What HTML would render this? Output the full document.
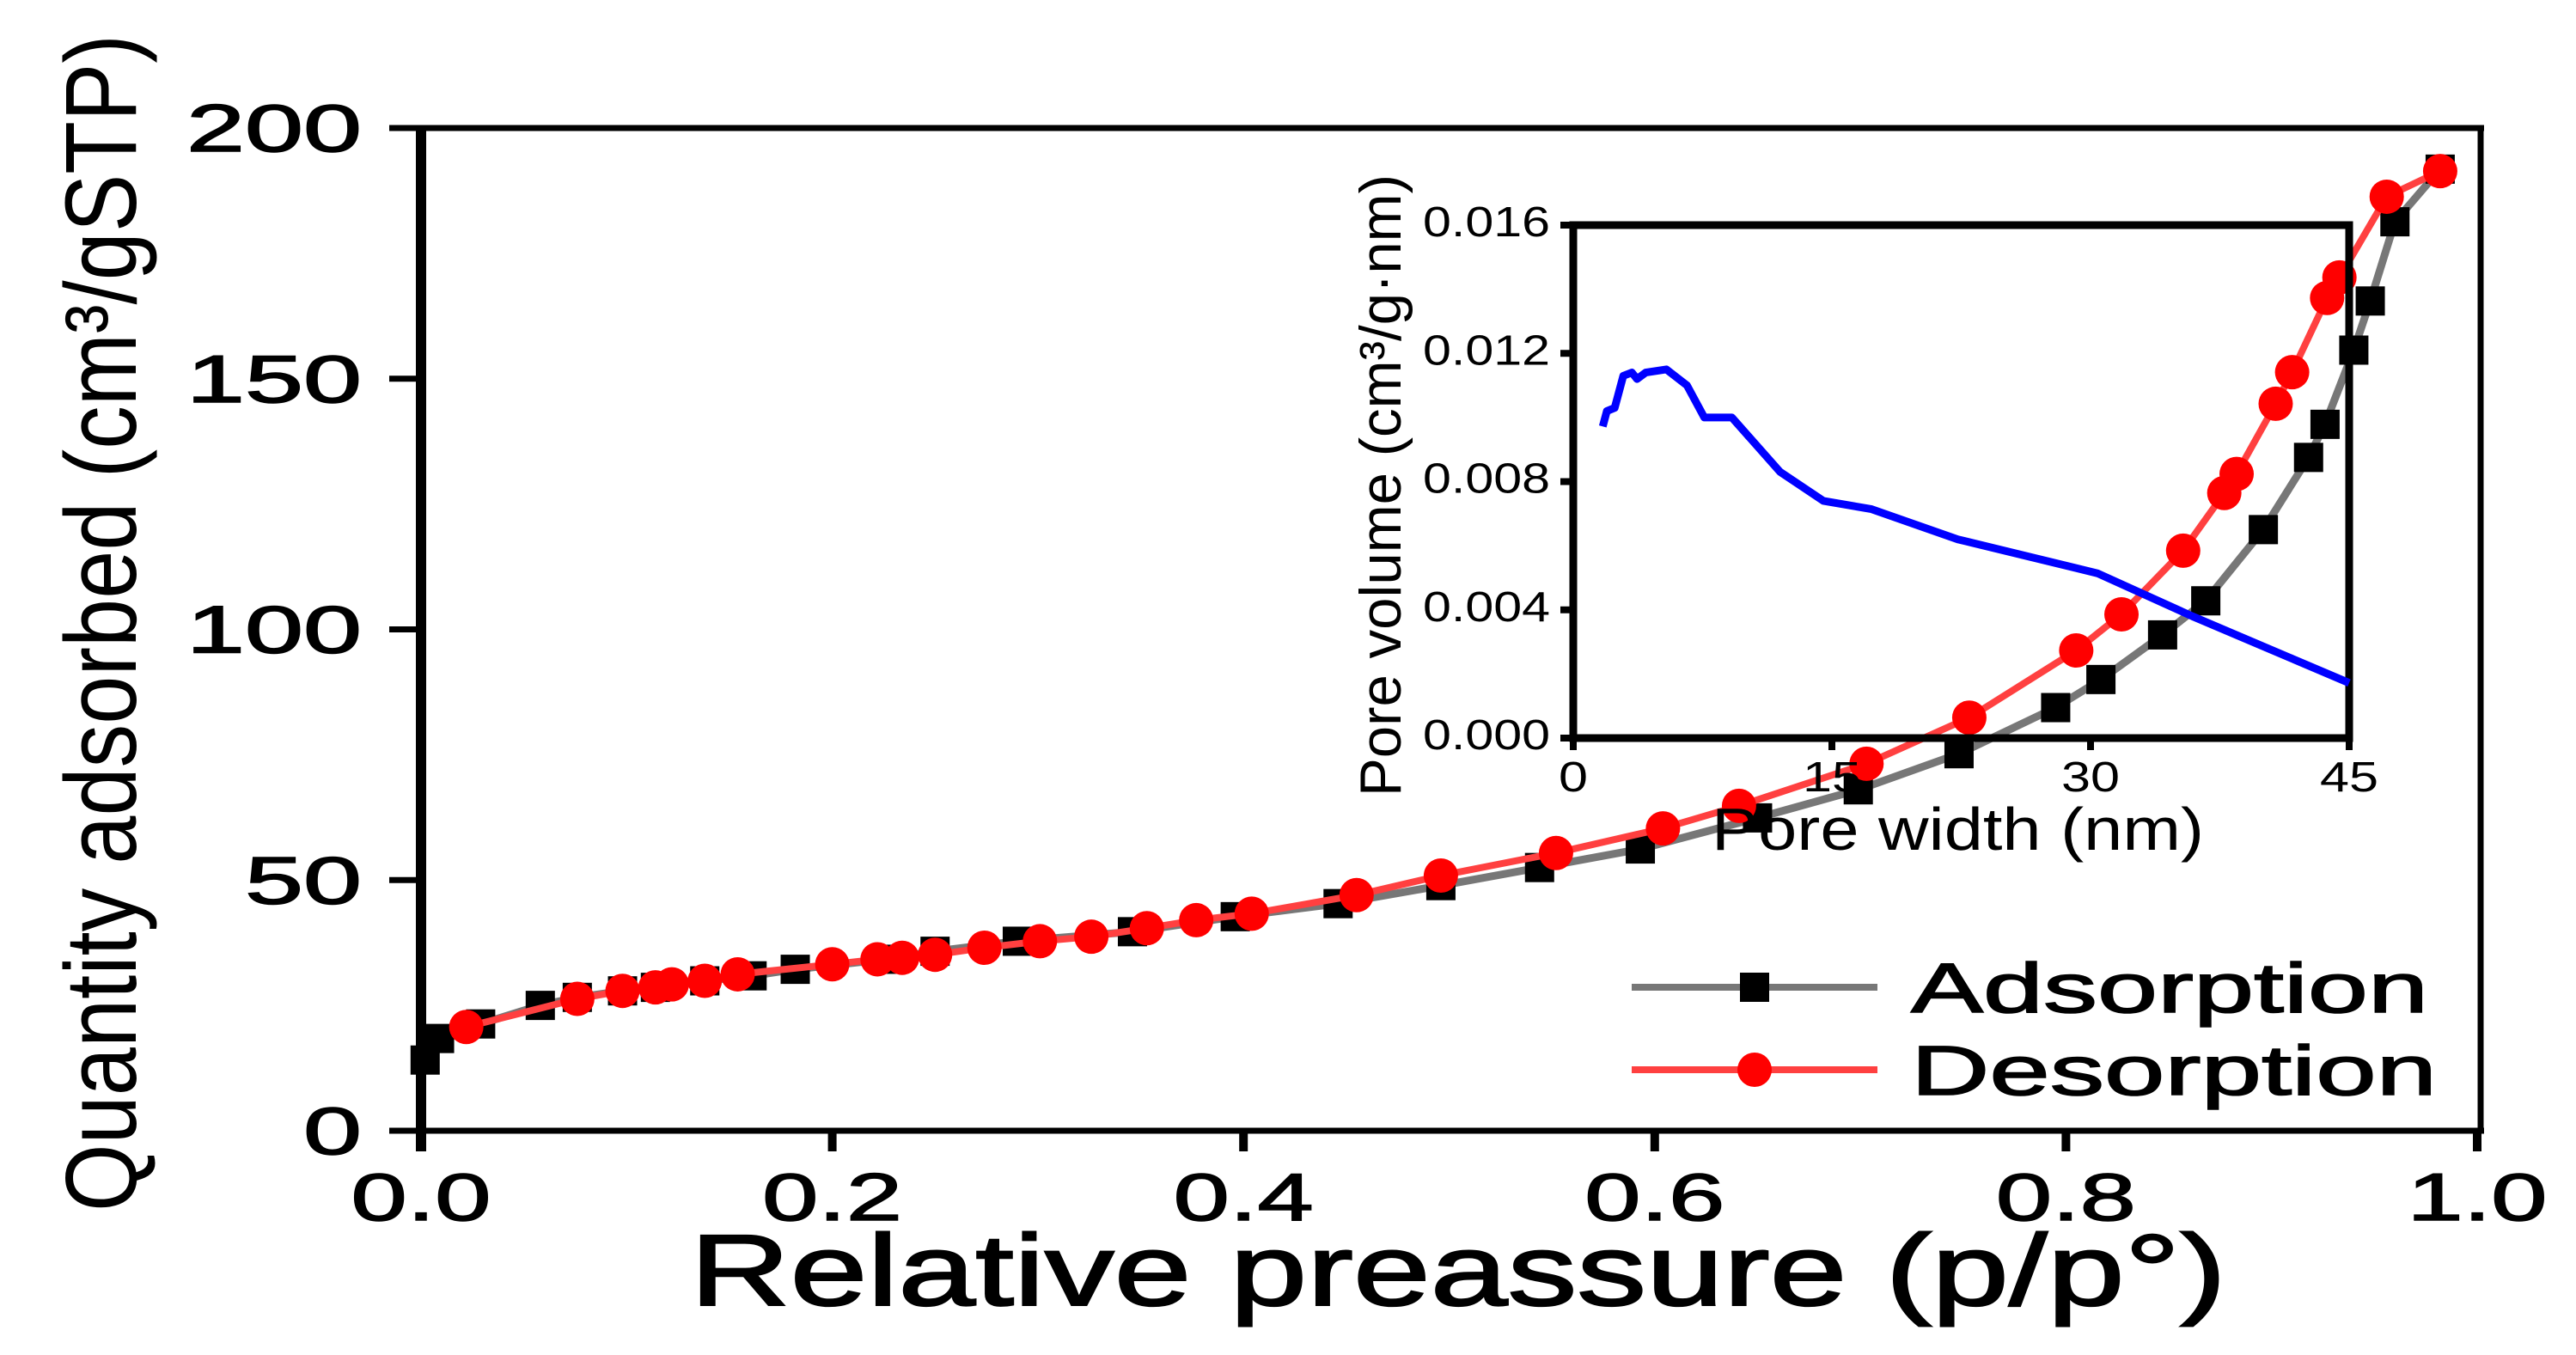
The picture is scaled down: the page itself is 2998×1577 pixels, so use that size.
<!DOCTYPE html>
<html><head><meta charset="utf-8"><style>
html,body{margin:0;padding:0;background:#fff}
svg{display:block}
text{font-family:"Liberation Sans",sans-serif;fill:#000}
</style></head><body>
<svg id="chart" width="2998" height="1577" viewBox="0 0 2998 1577" xmlns="http://www.w3.org/2000/svg"></svg>
<script>
// Main chart data
const xTicks = [0.0, 0.2, 0.4, 0.6, 0.8, 1.0];
const xTickLabels = ["0.0", "0.2", "0.4", "0.6", "0.8", "1.0"];
const yTicks = [0, 50, 100, 150, 200];
const yTickLabels = ["0", "50", "100", "150", "200"];
const adsP = [0.002,0.009,0.029,0.058,0.076,0.098,0.114,0.138,0.161,0.182,0.226,0.25,0.29,0.346,0.396,0.446,0.496,0.544,0.593,0.65,0.699,0.748,0.795,0.817,0.847,0.868,0.896,0.918,0.926,0.94,0.948,0.96,0.982];
const adsQ = [14.1,18.4,21.3,25,26.6,27.9,28.6,29.9,30.9,32.2,34.2,35.8,37.8,39.7,42.7,45.3,48.9,52.5,56.2,62.4,68,75.2,84.4,90,98.9,105.7,119.9,134.3,140.9,155.7,165.5,181.3,191.8];
const desP = [0.022,0.076,0.098,0.114,0.122,0.138,0.154,0.2,0.222,0.234,0.25,0.274,0.301,0.326,0.353,0.377,0.404,0.455,0.496,0.552,0.604,0.641,0.703,0.753,0.805,0.827,0.857,0.877,0.883,0.902,0.91,0.927,0.933,0.956,0.982];
const desQ = [20.7,26.3,27.9,28.6,29.2,29.9,31.2,33.2,34.2,34.5,35.1,36.5,37.8,38.7,40.4,42,43.3,47,50.9,55.4,60.3,64.8,73.2,82.4,95.8,103,115.7,127.2,131,145,151.3,166.1,170.2,186.3,191.4];
// Inset data
const insetXTicks = [0, 15, 30, 45];
const insetXTickLabels = ["0", "15", "30", "45"];
const insetYTicks = [0, 0.004, 0.008, 0.012, 0.016];
const insetYTickLabels = ["0.000", "0.004", "0.008", "0.012", "0.016"];
const poreWidth = [1.71,1.95,2.4,2.9,3.4,3.7,4.2,5.4,6.6,7.6,9.2,12.0,14.5,17.3,22.3,30.4,35.9,45];
const poreVolume = [0.00972,0.0102,0.0103,0.0113,0.0114,0.0112,0.0114,0.0115,0.0110,0.0100,0.0100,0.0083,0.0074,0.00714,0.0062,0.00514,0.0038,0.00172];

const NS = "http://www.w3.org/2000/svg";
const svg = document.getElementById("chart");
function mk(tag, attrs, parent) {
  const e = document.createElementNS(NS, tag);
  for (const k in attrs) e.setAttribute(k, attrs[k]);
  (parent || svg).appendChild(e);
  return e;
}
const X0 = 490, X1 = 2883, Y0 = 1316, Y1 = 149;
const sx = v => X0 + v * (X1 - X0);
const sy = v => Y0 - v / 200 * (Y0 - Y1);
const IX0 = 1831, IX1 = 2734, IY0 = 859, IY1 = 262;
const ix = v => IX0 + v / 45 * (IX1 - IX0);
const iy = v => IY0 - v / 0.016 * (IY0 - IY1);

let e;
e = mk("line", {x1: 453, y1: Y1, x2: 2891, y2: Y1, stroke: "#000", "stroke-width": 7});


e = mk("line", {x1: 2887, y1: Y1 - 3, x2: 2887, y2: Y0, stroke: "#000", "stroke-width": 7});



yTicks.forEach((v, i) => {
  const t = mk("line", {x1: 453, y1: sy(v), x2: X0, y2: sy(v), stroke: "#000", "stroke-width": 7});
  
  
  const lab = yTickLabels[i];
  const l = mk("text", {x: 421, y: sy(v) + 27, "font-size": 78, "text-anchor": "end", textLength: 68 * lab.length, lengthAdjust: "spacingAndGlyphs", stroke: "#000", "stroke-width": 1.5});
  l.textContent = lab;
  
  
});
xTicks.forEach((v, i) => {
  const t = mk("line", {x1: sx(v), y1: Y0, x2: sx(v), y2: Y0 + 24, stroke: "#000", "stroke-width": 10});
  
  
  const l = mk("text", {x: sx(v), y: 1420, "font-size": 78, "text-anchor": "middle", textLength: 163, lengthAdjust: "spacingAndGlyphs", stroke: "#000", "stroke-width": 1.5});
  l.textContent = xTickLabels[i];
  
  
});
e = mk("line", {x1: X0, y1: Y1 - 3, x2: X0, y2: Y0 + 24, stroke: "#000", "stroke-width": 12});


e = mk("line", {x1: 453, y1: Y0, x2: 2891, y2: Y0, stroke: "#000", "stroke-width": 7});



e = mk("text", {x: 803, y: 1519, "font-size": 118, textLength: 1788, lengthAdjust: "spacingAndGlyphs", stroke: "#000", "stroke-width": 2});
e.textContent = "Relative preassure (p/p°)";


e = mk("text", {x: 0, y: 0, "font-size": 118, "text-anchor": "middle", textLength: 1370, lengthAdjust: "spacingAndGlyphs", transform: "translate(158,725) rotate(-90)"});
e.textContent = "Quantity adsorbed (cm³/gSTP)";



function series(P, Q, color, w, name) {
  const pts = P.map((p, i) => sx(p).toFixed(1) + "," + sy(Q[i]).toFixed(1)).join(" ");
  const pl = mk("polyline", {points: pts, fill: "none", stroke: color, "stroke-width": w, "stroke-linejoin": "round"});
  
  
}
series(adsP, adsQ, "#777", 9, "adsorption");
adsP.forEach((p, i) => {
  const r = mk("rect", {x: sx(p) - 17, y: sy(adsQ[i]) - 17, width: 34, height: 34, fill: "#000"});
  
  
});
series(desP, desQ, "#ff4040", 8, "desorption");
desP.forEach((p, i) => {
  const c = mk("circle", {cx: sx(p), cy: sy(desQ[i]), r: 20, fill: "#ff0000"});
  
  
});

const lg = mk("g", {});


e = mk("line", {x1: 1899, y1: 1149, x2: 2185, y2: 1149, stroke: "#777", "stroke-width": 8}, lg);


e = mk("rect", {x: 2025, y: 1132, width: 34, height: 34, fill: "#000"}, lg);


e = mk("text", {x: 2224, y: 1178, "font-size": 82, textLength: 602, lengthAdjust: "spacingAndGlyphs", stroke: "#000", "stroke-width": 1.5}, lg);
e.textContent = "Adsorption";


e = mk("line", {x1: 1899, y1: 1245, x2: 2185, y2: 1245, stroke: "#ff4040", "stroke-width": 8}, lg);


e = mk("circle", {cx: 2042, cy: 1245, r: 20, fill: "#ff0000"}, lg);


e = mk("text", {x: 2224, y: 1274, "font-size": 82, textLength: 612, lengthAdjust: "spacingAndGlyphs", stroke: "#000", "stroke-width": 1.5}, lg);
e.textContent = "Desorption";



const ig = mk("g", {});


e = mk("rect", {x: IX0, y: IY1, width: IX1 - IX0, height: IY0 - IY1, fill: "none", stroke: "#000", "stroke-width": 9}, ig);


insetYTicks.forEach((v, i) => {
  const t = mk("line", {x1: IX0 - 15, y1: iy(v), x2: IX0, y2: iy(v), stroke: "#000", "stroke-width": 8}, ig);
  
  
  const l = mk("text", {x: 1804, y: iy(v) + 13, "font-size": 49, "text-anchor": "end", textLength: 148, lengthAdjust: "spacingAndGlyphs"}, ig);
  l.textContent = insetYTickLabels[i];
  
  
});
insetXTicks.forEach((v, i) => {
  const t = mk("line", {x1: ix(v), y1: IY0, x2: ix(v), y2: IY0 + 14, stroke: "#000", "stroke-width": 8}, ig);
  
  
  const lab = insetXTickLabels[i];
  const l = mk("text", {x: ix(v), y: 921, "font-size": 49, "text-anchor": "middle", textLength: 34 * lab.length, lengthAdjust: "spacingAndGlyphs"}, ig);
  l.textContent = lab;
  
  
});
const bpts = poreWidth.map((w, i) => ix(w).toFixed(1) + "," + iy(poreVolume[i]).toFixed(1)).join(" ");
e = mk("polyline", {points: bpts, fill: "none", stroke: "#0000ff", "stroke-width": 9, "stroke-linejoin": "round"}, ig);


e = mk("text", {x: 1992, y: 989, "font-size": 70, textLength: 573, lengthAdjust: "spacingAndGlyphs"}, ig);
e.textContent = "Pore width (nm)";


e = mk("text", {x: 0, y: 0, "font-size": 68, "text-anchor": "middle", textLength: 724, lengthAdjust: "spacingAndGlyphs", transform: "translate(1630,565) rotate(-90)"}, ig);
e.textContent = "Pore volume (cm³/g·nm)";


</script>
</body></html>
